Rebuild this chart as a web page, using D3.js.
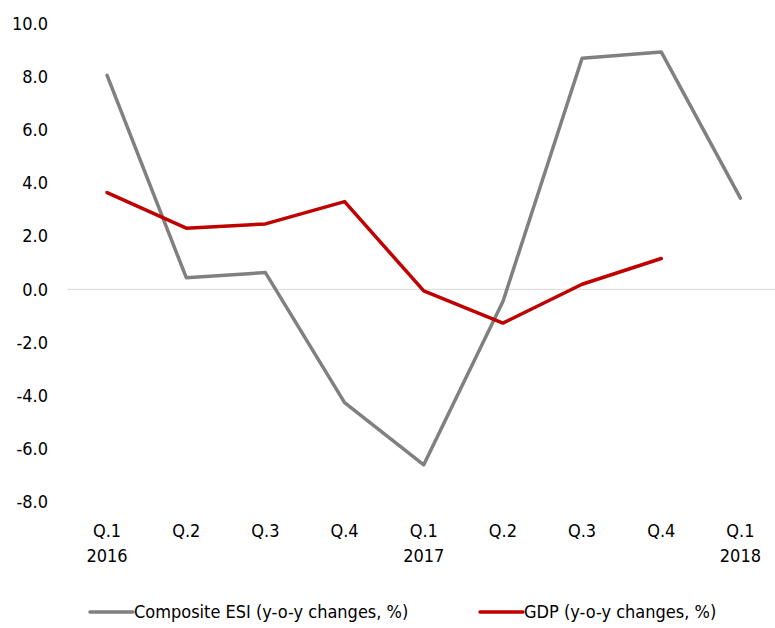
<!DOCTYPE html>
<html>
<head>
<meta charset="utf-8">
<script src="https://cdn.jsdelivr.net/npm/d3@7/dist/d3.min.js"></script>
<style>
  html, body { margin: 0; padding: 0; background: #fff; }
  svg text { font-family: "DejaVu Sans Condensed", "DejaVu Sans", Verdana, sans-serif; fill: #000; }
</style>
</head>
<body>
<svg id="chart" width="775" height="628"></svg>
<script>
// Quarterly categories (two-line labels: quarter + optional year)
const quarters = ["Q.1", "Q.2", "Q.3", "Q.4", "Q.1", "Q.2", "Q.3", "Q.4", "Q.1"];
const years    = ["2016", "", "", "", "2017", "", "", "", "2018"];

// Series values (y-o-y changes, %)
const esiValues = [8.05, 0.44, 0.63, -4.26, -6.60, -0.46, 8.69, 8.93, 3.43];
const gdpValues = [3.64, 2.30, 2.46, 3.30, -0.06, -1.27, 0.19, 1.16];

const yTicks = [-8, -6, -4, -2, 0, 2, 4, 6, 8, 10];

const seriesNames = ["Composite ESI (y-o-y changes, %)", "GDP (y-o-y changes, %)"];
const seriesColors = ["#808080", "#C00000"];

const FONT = '"DejaVu Sans Condensed", "DejaVu Sans", sans-serif';
const FS = 18;

const svg = d3.select("#chart");

const x = d3.scaleBand()
  .domain(d3.range(quarters.length))
  .range([67.5, 780]);

const y = d3.scaleLinear()
  .domain([-8, 10])
  .range([502, 23.5]);

const cx = i => x(i) + x.bandwidth() / 2;

// Y axis tick labels (no axis line), plain hyphen for negatives
const fmt = d3.format(".1f");
const yAxis = d3.axisLeft(y).tickValues(yTicks)
  .tickFormat(d => fmt(d).replace("\u2212", "-"))
  .tickSize(0).tickPadding(0);
const yg = svg.append("g").attr("transform", "translate(48,0)").call(yAxis);
yg.attr("font-family", FONT).attr("font-size", FS);
yg.select(".domain").remove();
yg.selectAll("text").attr("fill", "#000");

// Zero reference line
svg.append("line")
  .attr("x1", x.range()[0]).attr("x2", x.range()[1])
  .attr("y1", y(0)).attr("y2", y(0))
  .attr("stroke", "#d9d9d9").attr("stroke-width", 1);

// X axis category labels
const xl = svg.append("g").attr("font-family", FONT).attr("font-size", FS);
quarters.forEach((q, i) => {
  const t = xl.append("text")
    .attr("x", cx(i)).attr("text-anchor", "middle");
  t.append("tspan").attr("x", cx(i)).attr("y", 537).text(q);
  if (years[i]) t.append("tspan").attr("x", cx(i)).attr("y", 562).text(years[i]);
});

// Lines
const line = d3.line().x((d, i) => cx(i)).y(d => y(d));
[esiValues, gdpValues].forEach((vals, k) => {
  svg.append("path")
    .datum(vals)
    .attr("d", line)
    .attr("fill", "none")
    .attr("stroke", seriesColors[k])
    .attr("stroke-width", 3.5)
    .attr("stroke-linejoin", "round")
    .attr("stroke-linecap", "round");
});

// Legend
const legendX = [90, 480];
seriesNames.forEach((name, k) => {
  const g = svg.append("g").attr("transform", `translate(${legendX[k]},612)`)
    .attr("font-family", FONT).attr("font-size", FS);
  g.append("line").attr("x1", 0).attr("x2", 43).attr("y1", 0).attr("y2", 0)
    .attr("stroke", seriesColors[k]).attr("stroke-width", 3.5).attr("stroke-linecap", "round");
  g.append("text").attr("x", 44).attr("y", 6).text(name);
});
</script>
</body>
</html>
